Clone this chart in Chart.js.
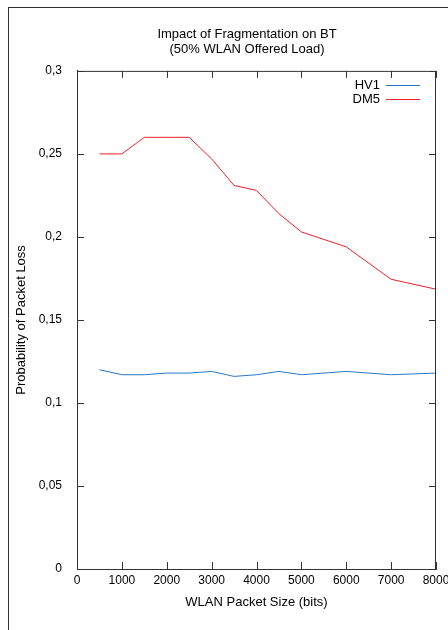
<!DOCTYPE html>
<html>
<head>
<meta charset="utf-8">
<title>Impact of Fragmentation on BT</title>
<script src="https://cdn.jsdelivr.net/npm/chart.js@4.4.1/dist/chart.umd.min.js"></script>
<style>
  html, body { margin: 0; padding: 0; background: #fff; overflow: hidden; }
  #wrap { position: absolute; left: 0; top: 0; width: 494px; height: 630px; }
</style>
</head>
<body>
<div id="wrap"><canvas id="chart" width="494" height="630"></canvas></div>
<script>
// packet sizes (bits)
const packetSizes = [500, 1000, 1500, 2000, 2500, 3000, 3500, 4000, 4500, 5000, 6000, 7000, 8000];
// probability of packet loss
const hv1 = [0.120, 0.117, 0.117, 0.118, 0.118, 0.119, 0.116, 0.117, 0.119, 0.117, 0.119, 0.117, 0.118];
const dm5 = [0.250, 0.250, 0.260, 0.260, 0.260, 0.247, 0.231, 0.228, 0.214, 0.203, 0.194, 0.1745, 0.1685];
const seriesNames = ['HV1', 'DM5'];
const seriesColors = ['rgb(40,120,200)', 'rgb(240,30,40)'];
const chartTitle = ['Impact of Fragmentation on BT', '(50% WLAN Offered Load)'];

const axisColor = '#333';
const fontFam = '"Liberation Sans", Arial, sans-serif';

function toPoints(ys) {
    return packetSizes.map((x, i) => ({ x: x, y: ys[i] }));
}

function comma(v) {
    return String(Math.round(v * 100) / 100).replace('.', ',');
}

// gnuplot look: inward ticks on all four sides, legend text before sample line, outer frame
const gnuplotBits = {
    id: 'gnuplotBits',
    afterDraw(chart) {
        const ctx = chart.ctx;
        const a = chart.chartArea;
        const xs = chart.scales.x, ys = chart.scales.y;
        const len = 7;
        ctx.save();
        ctx.strokeStyle = axisColor;
        ctx.lineWidth = 1;
        ctx.beginPath();
        // top and right border
        ctx.moveTo(a.left, a.top + 0.5);
        ctx.lineTo(a.right, a.top + 0.5);
        ctx.moveTo(a.right - 0.5, a.top);
        ctx.lineTo(a.right - 0.5, a.bottom);
        xs.ticks.forEach(t => {
            const px = Math.round(xs.getPixelForValue(t.value)) + 0.5;
            ctx.moveTo(px, a.bottom);
            ctx.lineTo(px, a.bottom - len);
            ctx.moveTo(px, a.top);
            ctx.lineTo(px, a.top + len);
        });
        ys.ticks.forEach(t => {
            const py = Math.round(ys.getPixelForValue(t.value)) + 0.5;
            ctx.moveTo(a.left, py);
            ctx.lineTo(a.left + len, py);
            ctx.moveTo(a.right, py);
            ctx.lineTo(a.right - len, py);
        });
        // outer frame (left and top)
        ctx.moveTo(8.5, 7);
        ctx.lineTo(8.5, chart.height);
        ctx.moveTo(8, 7.5);
        ctx.lineTo(chart.width, 7.5);
        ctx.stroke();

        // legend
        ctx.font = '13px ' + fontFam;
        ctx.textAlign = 'right';
        ctx.textBaseline = 'middle';
        seriesNames.forEach((name, i) => {
            const y = 85 + i * 14;
            ctx.fillStyle = '#000';
            ctx.fillText(name, 380, y);
            ctx.beginPath();
            ctx.strokeStyle = seriesColors[i];
            ctx.moveTo(386, y + 0.5);
            ctx.lineTo(420, y + 0.5);
            ctx.stroke();
        });
        ctx.restore();
    }
};

new Chart(document.getElementById('chart'), {
    type: 'line',
    data: {
        datasets: [
            { label: seriesNames[0], data: toPoints(hv1), borderColor: seriesColors[0], borderWidth: 1, pointRadius: 0, tension: 0 },
            { label: seriesNames[1], data: toPoints(dm5), borderColor: seriesColors[1], borderWidth: 1, pointRadius: 0, tension: 0 }
        ]
    },
    options: {
        responsive: false,
        animation: false,
        layout: { padding: { left: 10, right: 10, top: 0, bottom: 10 } },
        plugins: {
            legend: { display: false },
            tooltip: { enabled: false },
            title: {
                display: true,
                text: chartTitle,
                color: '#000',
                font: { family: fontFam, size: 13, weight: 'normal', lineHeight: 1.15 },
                padding: { top: 27, bottom: 14 }
            }
        },
        scales: {
            x: {
                type: 'linear',
                min: 0,
                max: 8000,
                grid: { display: false, drawTicks: false },
                border: { display: true, color: axisColor },
                ticks: { stepSize: 1000, padding: 4, color: '#000', maxRotation: 0, font: { family: fontFam, size: 12 }, callback: v => String(v) },
                title: { display: true, text: 'WLAN Packet Size (bits)', color: '#000', font: { family: fontFam, size: 13 }, padding: { top: 0, bottom: 10 } },
                afterFit(s) { s.height = 51; }
            },
            y: {
                min: 0,
                max: 0.3,
                grid: { display: false, drawTicks: false },
                border: { display: true, color: axisColor },
                ticks: { stepSize: 0.05, padding: 15, color: '#000', font: { family: fontFam, size: 12 }, callback: v => comma(v) },
                title: { display: true, text: 'Probability of Packet Loss', color: '#000', font: { family: fontFam, size: 13 }, padding: { top: 4, bottom: 0 } },
                afterFit(s) { s.width = 67; }
            },
            // empty right-hand strip so the title centres like the original figure
            yRight: {
                position: 'right',
                display: true,
                grid: { display: false, drawTicks: false },
                border: { display: false },
                ticks: { display: false },
                afterFit(s) { s.width = 48; }
            }
        }
    },
    plugins: [gnuplotBits]
});
</script>
</body>
</html>
